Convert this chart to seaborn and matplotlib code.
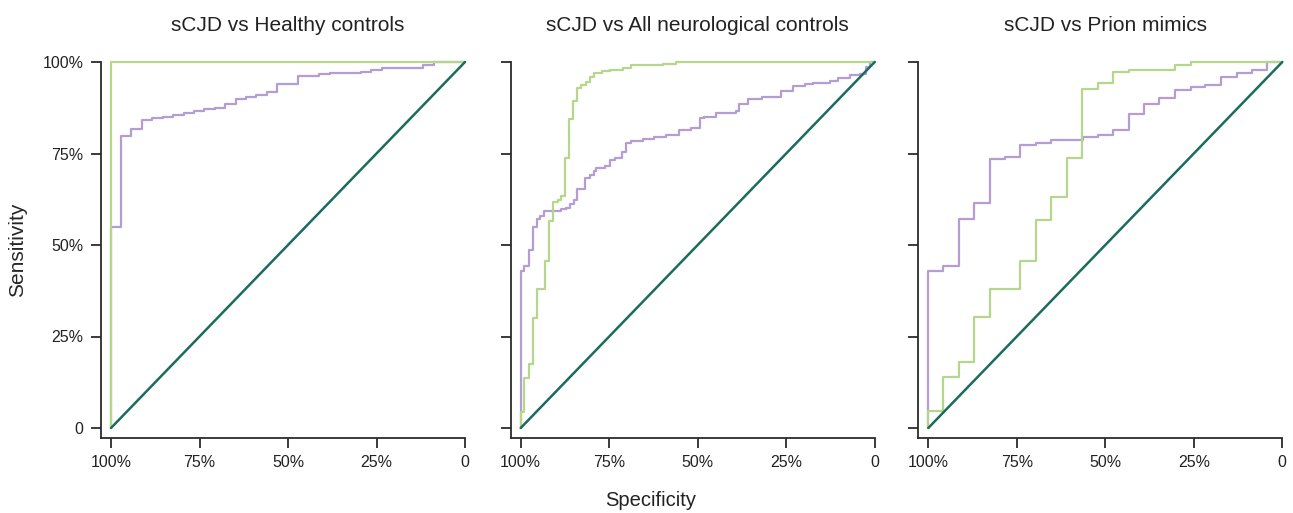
import matplotlib
matplotlib.use("Agg")
import matplotlib.pyplot as plt
import seaborn as sns

# ROC curves: specificity / sensitivity pairs (step corners)
titles = ["sCJD vs Healthy controls", "sCJD vs All neurological controls", "sCJD vs Prion mimics"]
tick_vals = [1.0, 0.75, 0.5, 0.25, 0.0]
tick_labels = ["100%", "75%", "50%", "25%", "0"]

chance_spec = [1.0, 0.0]
chance_sens = [0.0, 1.0]

# healthy controls
hc_purple_spec = [1.0, 1.0, 0.972, 0.943, 0.913, 0.884, 0.854, 0.824, 0.794, 0.766, 0.736, 0.707, 0.677,
                  0.648, 0.618, 0.590, 0.559, 0.530, 0.471, 0.412, 0.382, 0.295, 0.266, 0.235, 0.118, 0.088, 0.0]
hc_purple_sens = [0.0, 0.549, 0.798, 0.816, 0.841, 0.847, 0.851, 0.856, 0.862, 0.867, 0.871, 0.875, 0.886,
                  0.900, 0.904, 0.909, 0.918, 0.941, 0.962, 0.968, 0.971, 0.974, 0.979, 0.983, 0.992, 1.0, 1.0]
hc_green_spec = [1.0, 1.0, 0.0]
hc_green_sens = [0.0, 1.0, 1.0]

# all neurological controls
nc_purple_spec = [1.0, 1.0, 0.990, 0.977, 0.966, 0.955, 0.946, 0.935, 0.885, 0.873, 0.861, 0.850, 0.840,
                  0.817, 0.805, 0.794, 0.787, 0.763, 0.747, 0.735, 0.713, 0.702, 0.688, 0.674, 0.655, 0.623,
                  0.590, 0.552, 0.520, 0.494, 0.482, 0.449, 0.393, 0.382, 0.358, 0.318, 0.264, 0.232, 0.197,
                  0.173, 0.126, 0.103, 0.070, 0.042, 0.025, 0.014, 0.0]
nc_purple_sens = [0.0, 0.430, 0.442, 0.487, 0.549, 0.570, 0.579, 0.593, 0.598, 0.602, 0.611, 0.624, 0.652,
                  0.683, 0.692, 0.701, 0.710, 0.717, 0.733, 0.738, 0.753, 0.778, 0.783, 0.785, 0.789, 0.794,
                  0.801, 0.814, 0.819, 0.846, 0.850, 0.860, 0.867, 0.885, 0.900, 0.905, 0.921, 0.934, 0.939,
                  0.943, 0.948, 0.957, 0.964, 0.966, 0.986, 1.0, 1.0]
nc_green_spec = [1.0, 1.0, 0.990, 0.977, 0.966, 0.955, 0.932, 0.920, 0.910, 0.896, 0.885, 0.875, 0.863,
                 0.852, 0.841, 0.829, 0.815, 0.803, 0.793, 0.771, 0.749, 0.712, 0.688, 0.599, 0.562, 0.0]
nc_green_sens = [0.0, 0.045, 0.136, 0.176, 0.301, 0.380, 0.455, 0.566, 0.618, 0.624, 0.633, 0.739, 0.844,
                 0.894, 0.930, 0.937, 0.944, 0.959, 0.970, 0.975, 0.978, 0.984, 0.991, 0.995, 1.0, 1.0]

# prion mimics
pm_purple_spec = [1.0, 1.0, 0.958, 0.913, 0.871, 0.827, 0.783, 0.741, 0.696, 0.653, 0.564, 0.522, 0.478,
                  0.434, 0.392, 0.347, 0.304, 0.259, 0.217, 0.173, 0.129, 0.085, 0.042, 0.0]
pm_purple_sens = [0.0, 0.429, 0.443, 0.570, 0.615, 0.735, 0.740, 0.774, 0.779, 0.788, 0.796, 0.800, 0.814,
                  0.858, 0.885, 0.901, 0.924, 0.932, 0.937, 0.960, 0.969, 0.977, 1.0, 1.0]
pm_green_spec = [1.0, 1.0, 0.958, 0.913, 0.871, 0.827, 0.741, 0.696, 0.653, 0.608, 0.566, 0.522, 0.478,
                 0.434, 0.304, 0.259, 0.0]
pm_green_sens = [0.0, 0.047, 0.138, 0.179, 0.302, 0.381, 0.456, 0.567, 0.632, 0.738, 0.927, 0.942, 0.973,
                 0.977, 0.991, 1.0, 1.0]

curves = [
    (hc_purple_spec, hc_purple_sens, hc_green_spec, hc_green_sens),
    (nc_purple_spec, nc_purple_sens, nc_green_spec, nc_green_sens),
    (pm_purple_spec, pm_purple_sens, pm_green_spec, pm_green_sens),
]

purple = "#b39dd3"
green = "#b4d78c"
teal = "#1c6c5d"
axis_col = "#2b2b2b"

sns.set_theme(style="ticks")
plt.rcParams["font.family"] = ["Liberation Sans", "DejaVu Sans"]

fig = plt.figure(figsize=(12.93, 5.13), dpi=100)
lefts = [111, 520.7, 928.3]
W, H = 1293, 513

for i, (ps, pv, gs, gv) in enumerate(curves):
    ax = fig.add_axes([(lefts[i] - 10) / W, 75 / H, 364 / W, 376 / H])
    sns.lineplot(x=ps, y=pv, ax=ax, color=purple, lw=1.6, sort=False, estimator=None,
                 drawstyle="steps-post", clip_on=False)
    sns.lineplot(x=gs, y=gv, ax=ax, color=green, lw=1.6, sort=False, estimator=None,
                 drawstyle="steps-post", clip_on=False)
    sns.lineplot(x=chance_spec, y=chance_sens, ax=ax, color=teal, lw=1.8, sort=False,
                 estimator=None, clip_on=False)
    ax.set_xlim(1 + 10 / 354, 0)
    ax.set_ylim(-10 / 366, 1)
    ax.set_xticks(tick_vals)
    ax.set_xticklabels(tick_labels)
    ax.set_yticks(tick_vals)
    if i == 0:
        ax.set_yticklabels(tick_labels)
        ax.set_ylabel("Sensitivity", fontsize=15, labelpad=11)
    else:
        ax.set_yticklabels([])
        ax.set_ylabel("")
    ax.set_xlabel("")
    sns.despine(ax=ax)
    for s in ["left", "bottom"]:
        ax.spines[s].set_color(axis_col)
        ax.spines[s].set_linewidth(1.3)
    ax.tick_params(length=7.5, width=1.3, color=axis_col, labelsize=11.5, labelcolor="#222222", pad=5)
    ax.set_title(titles[i], fontsize=15, color="#222222", pad=22, x=(10 + 177) / 364)

fig.text(0.503, 0.025, "Specificity", ha="center", va="center", fontsize=14.5, color="#222222")

plt.savefig("out.png", dpi=100, facecolor="white")
plt.close()
